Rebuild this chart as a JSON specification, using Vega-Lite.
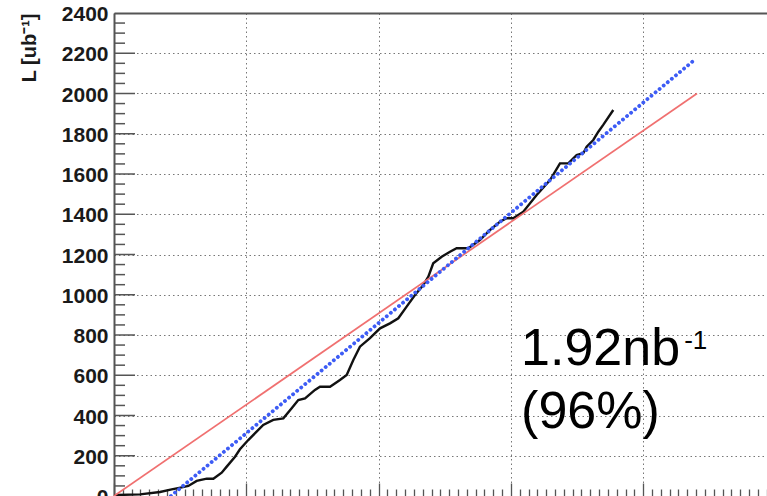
{
  "$schema": "https://vega.github.io/schema/vega-lite/v6.json",
  "width": 653,
  "height": 483,
  "autosize": {"type": "none"},
  "padding": {"left": 114, "top": 13, "right": 0, "bottom": 0},
  "background": "white",
  "config": {
    "view": {"stroke": null},
    "axis": {"labelFont": "Liberation Sans", "titleFont": "Liberation Sans"}
  },
  "datasets": {
    "lumi": [
      {"t": 0.0, "L": 0}, {"t": 0.02, "L": 5}, {"t": 0.197, "L": 8}, {"t": 0.348, "L": 20},
      {"t": 0.436, "L": 33}, {"t": 0.512, "L": 43}, {"t": 0.562, "L": 50}, {"t": 0.625, "L": 75},
      {"t": 0.701, "L": 86}, {"t": 0.751, "L": 86}, {"t": 0.814, "L": 116}, {"t": 0.852, "L": 146},
      {"t": 0.915, "L": 195}, {"t": 0.952, "L": 232}, {"t": 1.015, "L": 278}, {"t": 1.128, "L": 353},
      {"t": 1.204, "L": 378}, {"t": 1.28, "L": 386}, {"t": 1.343, "L": 436}, {"t": 1.393, "L": 477},
      {"t": 1.444, "L": 485}, {"t": 1.519, "L": 527}, {"t": 1.557, "L": 543}, {"t": 1.633, "L": 543},
      {"t": 1.708, "L": 576}, {"t": 1.759, "L": 601}, {"t": 1.809, "L": 676}, {"t": 1.859, "L": 742},
      {"t": 1.935, "L": 784}, {"t": 2.011, "L": 833}, {"t": 2.086, "L": 858}, {"t": 2.149, "L": 883},
      {"t": 2.212, "L": 941}, {"t": 2.275, "L": 999}, {"t": 2.338, "L": 1048}, {"t": 2.376, "L": 1090},
      {"t": 2.413, "L": 1156}, {"t": 2.477, "L": 1189}, {"t": 2.54, "L": 1214}, {"t": 2.59, "L": 1231},
      {"t": 2.678, "L": 1231}, {"t": 2.766, "L": 1272}, {"t": 2.842, "L": 1322}, {"t": 2.918, "L": 1363},
      {"t": 2.968, "L": 1380}, {"t": 3.018, "L": 1380}, {"t": 3.094, "L": 1413}, {"t": 3.195, "L": 1496},
      {"t": 3.296, "L": 1570}, {"t": 3.371, "L": 1653}, {"t": 3.434, "L": 1653}, {"t": 3.497, "L": 1694},
      {"t": 3.547, "L": 1703}, {"t": 3.573, "L": 1736}, {"t": 3.623, "L": 1769}, {"t": 3.661, "L": 1810},
      {"t": 3.698, "L": 1844}, {"t": 3.774, "L": 1918}
    ],
    "nominal": [{"t": 0, "L": 0}, {"t": 4.407, "L": 2000}],
    "fit": [{"t": 0.43, "L": 0}, {"t": 4.377, "L": 2161}],
    "notes": [
      {"t": 3.077, "L": 651, "text": "1.92nb"},
      {"t": 3.077, "L": 336, "text": "(96%)"}
    ],
    "sup": [{"t": 4.31, "L": 729, "text": "-1"}],
    "yticks": [
      {"L": 50}, {"L": 100}, {"L": 150}, {"L": 200}, {"L": 250}, {"L": 300}, {"L": 350}, {"L": 400},
      {"L": 450}, {"L": 500}, {"L": 550}, {"L": 600}, {"L": 650}, {"L": 700}, {"L": 750}, {"L": 800},
      {"L": 850}, {"L": 900}, {"L": 950}, {"L": 1000}, {"L": 1050}, {"L": 1100}, {"L": 1150}, {"L": 1200},
      {"L": 1250}, {"L": 1300}, {"L": 1350}, {"L": 1400}, {"L": 1450}, {"L": 1500}, {"L": 1550}, {"L": 1600},
      {"L": 1650}, {"L": 1700}, {"L": 1750}, {"L": 1800}, {"L": 1850}, {"L": 1900}, {"L": 1950}, {"L": 2000},
      {"L": 2050}, {"L": 2100}, {"L": 2150}, {"L": 2200}, {"L": 2250}, {"L": 2300}, {"L": 2350}
    ]
  },
  "layer": [
    {
      "data": {"name": "lumi"},
      "mark": {"type": "line", "color": "#111111", "strokeWidth": 2.4, "clip": true},
      "encoding": {
        "x": {
          "field": "t", "type": "quantitative",
          "scale": {"domain": [0, 4.936], "nice": false, "zero": false},
          "axis": {"orient": "top", "values": [0, 1, 2, 3, 4], "grid": true, "gridDash": [1.5, 3], "gridColor": "#777777", "gridWidth": 1, "labels": false, "ticks": false, "domain": true, "domainColor": "#555555", "domainWidth": 2, "title": null}
        },
        "y": {
          "field": "L", "type": "quantitative",
          "scale": {"domain": [0, 2400], "nice": false},
          "axis": {
            "orient": "left",
            "values": [0, 200, 400, 600, 800, 1000, 1200, 1400, 1600, 1800, 2000, 2200, 2400],
            "format": "d",
            "grid": true, "gridDash": [1.5, 3], "gridColor": "#777777", "gridWidth": 1,
            "ticks": false,
            "domain": true, "domainColor": "#555555", "domainWidth": 2,
            "labelFontSize": 21, "labelFontWeight": "bold", "labelColor": "#1a1a1a", "labelPadding": 6, "labelOffset": 1.5,
            "title": "L [ub⁻¹]", "titleFontSize": 20, "titleFontWeight": "bold", "titleColor": "#1a1a1a",
            "titleAngle": -90, "titleX": -79, "titleY": 0, "titleAlign": "right", "titleBaseline": "alphabetic"
          }
        }
      }
    },
    {
      "data": {"name": "yticks"},
      "mark": {"type": "tick", "orient": "horizontal", "color": "#555555", "thickness": 1.5, "opacity": 1, "clip": true},
      "encoding": {
        "x": {"datum": 0, "type": "quantitative", "axis": null},
        "y": {"field": "L", "type": "quantitative", "axis": null},
        "size": {"condition": {"test": "datum.L % 200 === 0", "value": 42}, "value": 22}
      }
    },
    {
      "data": {"name": "nominal"},
      "mark": {"type": "line", "color": "#f07070", "strokeWidth": 1.7},
      "encoding": {
        "x": {
          "field": "t", "type": "quantitative",
          "axis": {"orient": "bottom", "values": [0, 0.0667, 0.1333, 0.2, 0.2667, 0.3333, 0.4, 0.4667, 0.5333, 0.6, 0.6667, 0.7333, 0.8, 0.8667, 0.9333, 1, 1.0667, 1.1333, 1.2, 1.2667, 1.3333, 1.4, 1.4667, 1.5333, 1.6, 1.6667, 1.7333, 1.8, 1.8667, 1.9333, 2, 2.0667, 2.1333, 2.2, 2.2667, 2.3333, 2.4, 2.4667, 2.5333, 2.6, 2.6667, 2.7333, 2.8, 2.8667, 2.9333, 3, 3.0667, 3.1333, 3.2, 3.2667, 3.3333, 3.4, 3.4667, 3.5333, 3.6, 3.6667, 3.7333, 3.8, 3.8667, 3.9333, 4, 4.0667, 4.1333, 4.2, 4.2667, 4.3333, 4.4, 4.4667, 4.5333, 4.6, 4.6667, 4.7333, 4.8, 4.8667, 4.9333],
            "grid": false, "labels": false, "ticks": true,
            "tickSize": {"condition": {"test": "abs(datum.value - round(datum.value)) < 0.001", "value": -13}, "value": -7},
            "tickColor": "#555555", "tickWidth": 1.3, "domain": false, "title": null}
        },
        "y": {"field": "L", "type": "quantitative", "axis": null}
      }
    },
    {
      "data": {"name": "fit"},
      "mark": {"type": "line", "color": "#3d5cf5", "strokeWidth": 3.8, "strokeDash": [0.1, 5.2], "strokeCap": "round"},
      "encoding": {
        "x": {"field": "t", "type": "quantitative", "axis": null},
        "y": {"field": "L", "type": "quantitative", "axis": null}
      }
    },
    {
      "data": {"name": "notes"},
      "mark": {"type": "text", "font": "Liberation Sans", "fontSize": 52, "align": "left", "baseline": "alphabetic", "color": "#000000"},
      "encoding": {
        "x": {"field": "t", "type": "quantitative", "axis": null},
        "y": {"field": "L", "type": "quantitative", "axis": null},
        "text": {"field": "text"}
      }
    },
    {
      "data": {"name": "sup"},
      "mark": {"type": "text", "font": "Liberation Sans", "fontSize": 26, "align": "left", "baseline": "alphabetic", "color": "#000000"},
      "encoding": {
        "x": {"field": "t", "type": "quantitative", "axis": null},
        "y": {"field": "L", "type": "quantitative", "axis": null},
        "text": {"field": "text"}
      }
    }
  ],
  "resolve": {"axis": {"x": "independent", "y": "independent"}}
}
